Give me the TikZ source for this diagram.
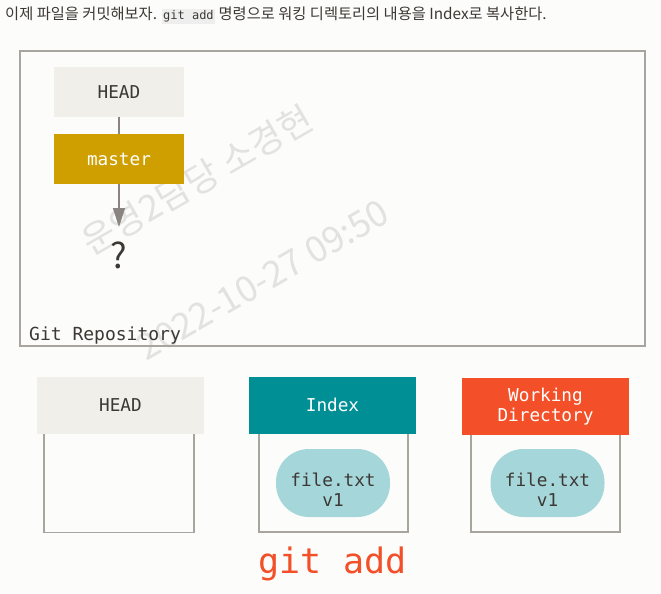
\documentclass[tikz,border=0pt]{standalone}
\usepackage{fontspec}
\setmainfont{Noto Sans CJK KR}
\newfontfamily\codefont{DejaVu Sans Mono}
\usetikzlibrary{arrows.meta}
\definecolor{pagebg}{RGB}{252,252,250}
\definecolor{boxline}{RGB}{168,165,158}
\definecolor{headfill}{RGB}{240,239,233}
\definecolor{masterfill}{RGB}{207,159,0}
\definecolor{indexfill}{RGB}{0,143,149}
\definecolor{workfill}{RGB}{243,80,41}
\definecolor{blobfill}{RGB}{165,214,217}
\definecolor{inkdark}{RGB}{60,56,52}
\definecolor{arrowgray}{RGB}{138,133,128}
\definecolor{stampgray}{RGB}{226,226,226}
\definecolor{codebg}{RGB}{238,238,238}

\begin{document}
\begin{tikzpicture}[x=1pt,y=-1pt,
  hdr/.style={minimum width=167pt,minimum height=57pt,inner sep=0pt,align=center,
    font=\codefont\fontsize{17.7}{20.5}\selectfont},
  ref/.style={minimum width=130pt,minimum height=50pt,inner sep=0pt,
    font=\codefont\fontsize{17.7}{20.5}\selectfont},
  tree/.style={draw=boxline,line width=1.5pt,inner sep=0pt},
  blob/.style={fill=blobfill,rounded corners=33pt,minimum width=114pt,minimum height=68pt,
    inner sep=0pt,align=center,text=inkdark,font=\codefont\fontsize{17.7}{20}\selectfont},
  stamp/.style={text=stampgray,rotate=30,inner sep=0pt,font=\fontsize{36}{40}\selectfont},
  link/.style={draw=arrowgray,line width=1.3pt}]
\useasboundingbox[fill=pagebg] (0,0) rectangle (661,594);
%\draw[red] (0,0) grid[step=50] (661,594);
\setlength\fboxsep{1.5pt}
\node[anchor=base west,inner sep=0pt,text=inkdark,font=\fontsize{15.3}{17}\selectfont] (intro) at (5,19.5)
  {이제 파일을 커밋해보자. \colorbox{codebg}{\codefont\fontsize{12}{14}\selectfont git add} 명령으로 워킹 디렉토리의 내용을 Index로 복사한다.};

% watermark
\node[stamp] (stampname) at (197,180) {운영2담당 소경현};
\node[stamp] (stampdate) at (263,280) {2022-10-27 09:50};

% repository
\node[tree,minimum width=625pt,minimum height=295pt] (repo) at (332.5,198.5) {};
\node[anchor=base west,inner sep=0pt,text=inkdark,font=\codefont\fontsize{18}{20}\selectfont] (repolabel) at (29,340) {Git Repository};
\node[ref,fill=headfill,text=inkdark] (head) at (119,92) {HEAD};
\node[ref,fill=masterfill,text=white] (master) at (119,159) {master};
\node[text=inkdark,inner sep=0pt,font=\fontsize{35}{40}\selectfont] (unknown) at (119,255) {?};
\coordinate (tip) at (119,227);
\draw[link] (head) -- (master);
\draw[link,-{Triangle[length=19pt,width=12pt]}] (master) -- (tip);

% the three trees
\node[tree,minimum width=150pt,minimum height=112pt] (headtree) at (119,476.5) {};
\node[tree,minimum width=149pt,minimum height=112pt] (indextree) at (333.5,476) {};
\node[tree,minimum width=149pt,minimum height=112pt] (worktree) at (545.5,476) {};
\node[hdr,fill=headfill,text=inkdark] (headhdr) at (120.5,405) {HEAD};
\node[hdr,fill=indexfill,text=white] (indexhdr) at (332.5,405) {Index};
\node[hdr,fill=workfill,text=white] (workhdr) at (545.5,406.5) {Working\\Directory};
\node[blob] (indexfile) at (333,483) {\rule{0pt}{27pt}file.txt\\v1};
\node[blob] (workfile) at (547.5,483) {\rule{0pt}{27pt}file.txt\\v1};
\node[anchor=base,inner sep=0pt,text=workfill,font=\codefont\fontsize{35}{40}\selectfont] (cmd) at (332.5,573) {git add};
\end{tikzpicture}
\end{document}
